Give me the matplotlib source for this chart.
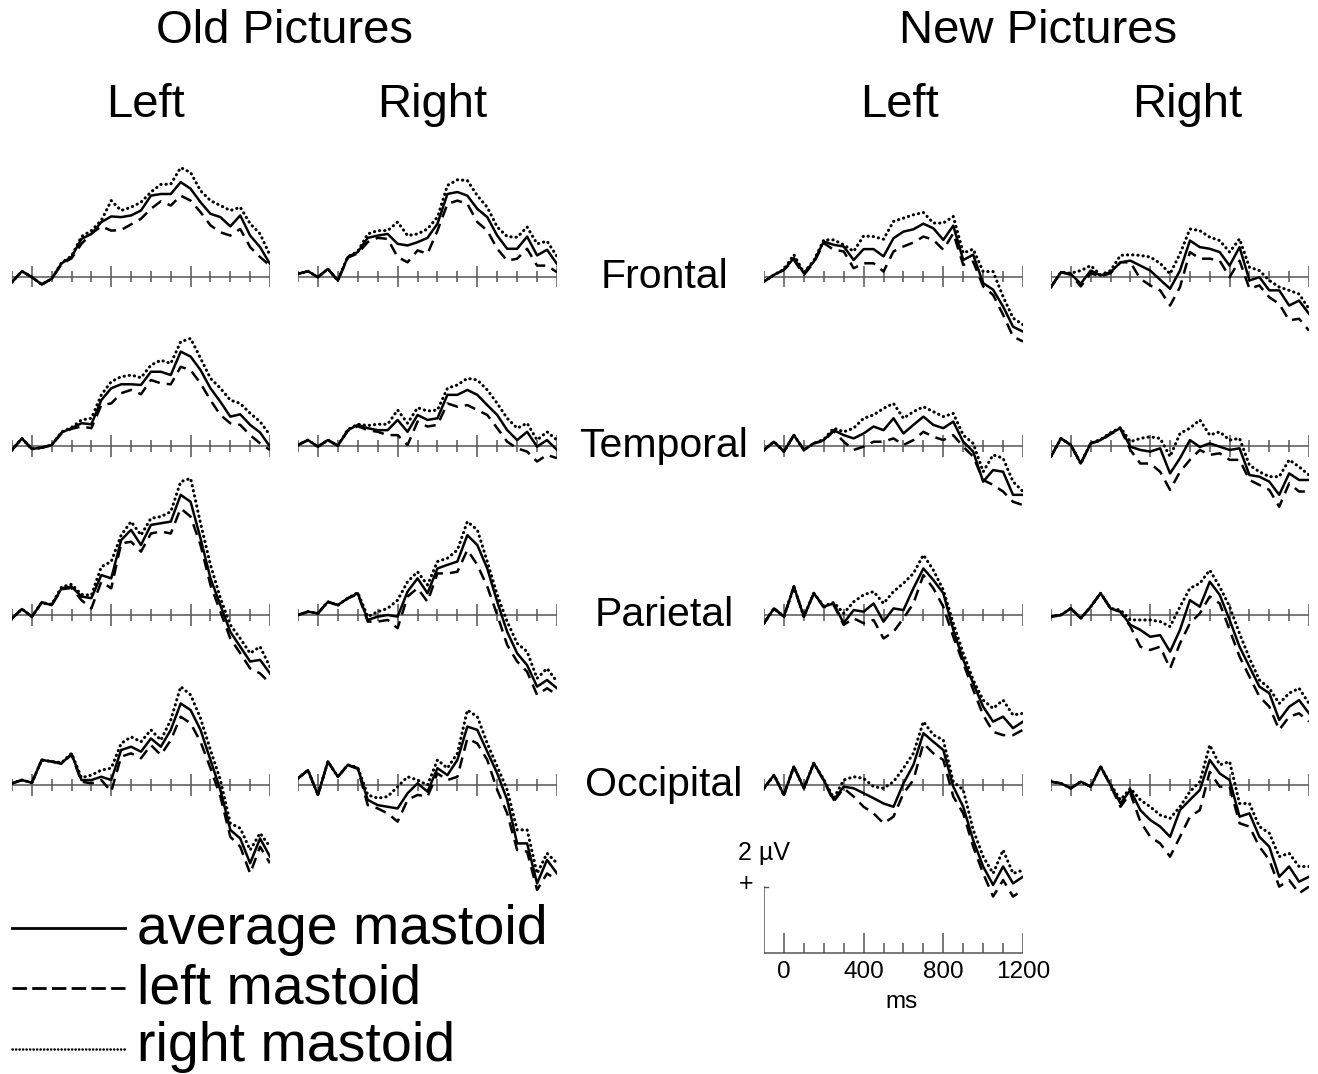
import matplotlib
matplotlib.use("Agg")
import matplotlib.pyplot as plt

plt.rcParams['font.family'] = ['Liberation Sans', 'DejaVu Sans']

# ---- time axis (ms) ----
times_ms = [-100, -50, 0, 50, 100, 150, 200, 250, 300, 350, 400, 450, 500, 550,
            600, 650, 700, 750, 800, 850, 900, 950, 1000, 1050, 1100, 1150, 1200]

# ---- Old pictures (uV), avg = average mastoid, lm = left mastoid, rm = right mastoid ----
old_left_frontal_avg = [-0.17, 0.16, -0.02, -0.24, -0.07, 0.4, 0.59, 1.14, 1.29, 1.65, 1.82, 1.8, 1.85, 2.0, 2.45, 2.5, 2.5, 2.86, 2.66, 2.25, 1.9, 1.8, 1.52, 1.85, 1.24, 0.89, 0.38]
old_left_frontal_rm = [-0.17, 0.16, -0.02, -0.24, -0.07, 0.42, 0.62, 1.21, 1.39, 1.7, 2.3, 2.0, 2.1, 2.25, 2.56, 2.79, 2.8, 3.3, 3.15, 2.6, 2.3, 2.15, 2.0, 2.1, 1.6, 1.29, 0.64]
old_left_frontal_lm = [-0.17, 0.16, -0.02, -0.24, -0.07, 0.38, 0.55, 0.99, 1.3, 1.52, 1.39, 1.41, 1.58, 1.75, 2.05, 2.28, 2.15, 2.45, 2.3, 1.95, 1.55, 1.34, 1.24, 1.44, 0.89, 0.59, 0.33]

old_right_frontal_avg = [0.08, 0.16, -0.02, 0.23, -0.12, 0.59, 0.74, 1.17, 1.24, 1.29, 0.99, 0.94, 1.04, 1.17, 1.6, 2.5, 2.56, 2.45, 2.05, 1.8, 1.24, 0.84, 0.84, 1.21, 0.64, 0.81, 0.38]
old_right_frontal_rm = [0.08, 0.16, -0.02, 0.23, -0.12, 0.6, 0.76, 1.29, 1.39, 1.39, 1.65, 1.24, 1.29, 1.44, 1.8, 2.76, 2.93, 2.91, 2.45, 2.1, 1.5, 1.21, 1.19, 1.5, 0.99, 1.07, 0.61]
old_right_frontal_lm = [0.08, 0.16, -0.02, 0.23, -0.12, 0.57, 0.7, 1.04, 1.17, 1.14, 0.59, 0.43, 0.79, 0.69, 1.39, 2.2, 2.3, 2.2, 1.65, 1.39, 0.84, 0.48, 0.54, 0.84, 0.33, 0.33, 0.13]

old_left_temporal_avg = [-0.12, 0.23, -0.09, -0.05, 0.03, 0.41, 0.54, 0.69, 0.66, 1.39, 1.75, 1.87, 1.87, 1.85, 2.25, 2.25, 2.15, 2.86, 2.71, 2.3, 1.75, 1.34, 0.89, 0.96, 0.64, 0.41, -0.02]
old_left_temporal_rm = [-0.12, 0.23, -0.09, -0.05, 0.03, 0.43, 0.56, 0.79, 0.84, 1.55, 1.95, 2.1, 2.15, 2.07, 2.45, 2.6, 2.5, 3.16, 3.26, 2.66, 2.05, 1.75, 1.39, 1.29, 0.99, 0.74, 0.33]
old_left_temporal_lm = [-0.12, 0.23, -0.09, -0.05, 0.03, 0.38, 0.52, 0.59, 0.54, 1.24, 1.29, 1.6, 1.7, 1.57, 2.0, 1.9, 1.87, 2.4, 2.3, 1.9, 1.39, 0.94, 0.69, 0.64, 0.33, 0.08, -0.12]

old_right_temporal_avg = [0.03, 0.18, -0.02, 0.18, 0.01, 0.48, 0.64, 0.54, 0.48, 0.48, 0.79, 0.43, 0.94, 0.79, 0.84, 1.55, 1.55, 1.7, 1.55, 1.24, 0.94, 0.48, 0.18, 0.43, -0.02, 0.18, -0.12]
old_right_temporal_rm = [0.03, 0.18, -0.02, 0.18, 0.01, 0.5, 0.66, 0.62, 0.66, 0.66, 1.09, 0.69, 1.16, 1.06, 1.09, 1.75, 1.85, 2.05, 2.0, 1.7, 1.29, 0.84, 0.54, 0.69, 0.18, 0.43, 0.18]
old_right_temporal_lm = [0.03, 0.18, -0.02, 0.18, 0.01, 0.46, 0.6, 0.48, 0.43, 0.33, 0.33, 0.03, 0.74, 0.59, 0.64, 1.29, 1.19, 1.24, 1.09, 0.94, 0.54, 0.13, -0.07, -0.17, -0.47, -0.27, -0.37]

old_left_parietal_avg = [-0.1, 0.18, -0.05, 0.38, 0.3, 0.81, 0.86, 0.56, 0.51, 1.21, 1.11, 2.27, 2.58, 2.12, 2.73, 2.78, 2.83, 3.64, 3.43, 2.32, 1.11, 0.3, -0.51, -0.96, -1.41, -1.36, -1.77]
old_left_parietal_rm = [-0.1, 0.18, -0.05, 0.38, 0.32, 0.85, 0.93, 0.62, 0.6, 1.46, 1.62, 2.42, 2.83, 2.42, 2.93, 2.98, 3.13, 4.04, 4.14, 2.78, 1.52, 0.51, -0.3, -0.71, -1.16, -0.96, -1.57]
old_left_parietal_lm = [-0.1, 0.18, -0.05, 0.38, 0.3, 0.78, 0.82, 0.45, 0.2, 1.01, 0.81, 2.17, 2.22, 1.92, 2.47, 2.53, 2.47, 3.23, 2.98, 2.12, 0.91, 0.1, -0.71, -1.16, -1.62, -1.77, -2.07]

old_right_parietal_avg = [0.0, 0.1, 0.05, 0.4, 0.3, 0.51, 0.66, -0.15, -0.05, 0.0, -0.05, 0.71, 1.11, 0.66, 1.41, 1.52, 1.62, 2.42, 2.12, 1.41, 0.4, -0.51, -1.16, -1.52, -2.17, -1.97, -2.22]
old_right_parietal_rm = [0.0, 0.1, 0.05, 0.4, 0.3, 0.51, 0.68, -0.05, 0.1, 0.2, 0.45, 1.01, 1.31, 0.91, 1.62, 1.72, 1.97, 2.83, 2.58, 1.62, 0.61, -0.2, -0.86, -1.11, -1.92, -1.62, -2.02]
old_right_parietal_lm = [0.0, 0.1, 0.05, 0.4, 0.3, 0.5, 0.64, -0.2, -0.2, -0.15, -0.4, 0.56, 0.81, 0.4, 1.26, 1.26, 1.31, 1.97, 1.52, 0.86, 0.0, -0.91, -1.41, -1.72, -2.42, -2.22, -2.42]

old_left_occipital_avg = [0.05, 0.15, 0.07, 0.76, 0.71, 0.66, 0.94, 0.15, 0.15, 0.25, 0.15, 1.06, 1.16, 1.01, 1.41, 1.16, 1.67, 2.47, 2.27, 1.67, 0.76, -0.15, -1.36, -1.62, -2.37, -1.62, -2.17]
old_left_occipital_rm = [0.05, 0.15, 0.07, 0.76, 0.71, 0.68, 0.96, 0.22, 0.3, 0.45, 0.51, 1.26, 1.46, 1.31, 1.67, 1.36, 1.97, 2.98, 2.73, 2.02, 1.06, 0.15, -1.16, -1.31, -1.97, -1.46, -1.87]
old_left_occipital_lm = [0.05, 0.15, 0.07, 0.76, 0.71, 0.64, 0.92, 0.1, 0.05, 0.15, -0.2, 0.86, 0.96, 0.81, 1.21, 0.91, 1.36, 2.07, 1.87, 1.31, 0.51, -0.35, -1.57, -1.87, -2.68, -1.87, -2.37]

old_right_occipital_avg = [0.2, 0.45, -0.3, 0.71, 0.25, 0.61, 0.51, -0.45, -0.61, -0.66, -0.71, -0.25, 0.05, -0.2, 0.51, 0.3, 0.76, 1.77, 1.67, 1.01, 0.35, -0.45, -1.77, -1.77, -2.98, -2.27, -2.68]
old_right_occipital_rm = [0.2, 0.45, -0.3, 0.71, 0.25, 0.61, 0.53, -0.3, -0.4, -0.35, -0.05, 0.25, 0.15, 0.0, 0.76, 0.51, 0.96, 2.27, 2.07, 1.26, 0.56, -0.15, -1.36, -1.36, -2.68, -2.07, -2.37]
old_right_occipital_lm = [0.2, 0.45, -0.3, 0.71, 0.25, 0.6, 0.49, -0.61, -0.71, -0.86, -1.11, -0.45, -0.3, -0.35, 0.35, 0.15, 0.25, 1.41, 1.26, 0.76, -0.15, -0.86, -1.97, -2.02, -3.18, -2.68, -2.88]

# ---- New pictures ----
new_left_frontal_avg = [-0.15, 0.05, 0.2, 0.56, 0.1, 0.45, 1.06, 0.96, 0.91, 0.5, 0.83, 0.83, 0.61, 1.16, 1.36, 1.43, 1.6, 1.46, 1.11, 1.54, 0.5, 0.66, -0.2, -0.4, -0.91, -1.52, -1.67]
new_left_frontal_rm = [-0.15, 0.05, 0.22, 0.66, 0.12, 0.48, 1.11, 1.11, 0.96, 0.76, 1.23, 1.21, 1.13, 1.67, 1.77, 1.87, 1.94, 1.62, 1.62, 1.82, 0.71, 0.83, 0.15, 0.15, -0.61, -1.26, -1.46]
new_left_frontal_lm = [-0.15, 0.05, 0.2, 0.5, 0.05, 0.42, 1.01, 0.81, 0.76, 0.25, 0.4, 0.4, 0.15, 0.76, 0.91, 1.03, 1.21, 1.11, 0.81, 1.31, 0.35, 0.45, -0.3, -0.56, -1.16, -1.82, -1.97]

new_right_frontal_avg = [-0.32, 0.13, 0.08, -0.22, 0.18, 0.03, 0.13, 0.43, 0.48, 0.33, 0.18, -0.1, -0.37, 0.18, 1.09, 0.89, 0.84, 0.74, 0.33, 0.89, -0.12, -0.02, -0.42, -0.42, -0.88, -0.73, -1.13]
new_right_frontal_rm = [-0.32, 0.13, 0.1, 0.18, 0.33, 0.05, 0.18, 0.64, 0.66, 0.64, 0.59, 0.4, 0.08, 0.69, 1.44, 1.39, 1.19, 1.09, 0.74, 1.14, 0.28, 0.18, -0.12, -0.32, -0.42, -0.53, -0.98]
new_right_frontal_lm = [-0.32, 0.13, 0.05, -0.3, 0.1, 0.0, 0.1, 0.43, 0.43, -0.07, -0.27, -0.42, -0.88, -0.32, 0.74, 0.54, 0.54, 0.48, -0.02, 0.48, -0.37, -0.27, -0.63, -0.83, -1.33, -1.28, -1.64]

new_left_temporal_avg = [-0.12, 0.13, -0.17, 0.33, -0.12, 0.08, 0.18, 0.48, 0.33, 0.23, 0.38, 0.59, 0.48, 0.84, 0.38, 0.64, 0.89, 0.64, 0.54, 0.74, 0.13, -0.17, -1.08, -0.73, -0.78, -1.48, -1.48]
new_left_temporal_rm = [-0.12, 0.13, -0.17, 0.33, -0.12, 0.08, 0.2, 0.54, 0.43, 0.54, 0.84, 0.94, 1.14, 1.29, 0.84, 1.04, 1.19, 1.04, 0.89, 0.99, 0.33, 0.08, -0.78, -0.27, -0.37, -1.08, -1.38]
new_left_temporal_lm = [-0.12, 0.13, -0.17, 0.33, -0.12, 0.08, 0.16, 0.45, 0.13, -0.12, -0.02, 0.13, 0.13, 0.23, 0.03, 0.18, 0.43, 0.28, 0.18, 0.33, -0.02, -0.32, -1.03, -1.18, -1.38, -1.69, -1.79]

new_right_temporal_avg = [-0.32, 0.23, 0.03, -0.53, 0.08, 0.18, 0.38, 0.54, -0.02, -0.12, -0.17, -0.07, -0.83, -0.37, 0.18, -0.03, 0.08, -0.02, -0.12, -0.07, -0.88, -0.93, -1.08, -1.48, -0.83, -1.03, -1.03]
new_right_temporal_rm = [-0.32, 0.23, 0.03, -0.53, 0.08, 0.2, 0.4, 0.56, 0.13, 0.23, 0.28, 0.23, -0.32, 0.38, 0.54, 0.79, 0.33, 0.43, 0.18, 0.23, -0.58, -0.78, -0.93, -0.93, -0.42, -0.63, -0.88]
new_right_temporal_lm = [-0.32, 0.23, 0.03, -0.53, 0.08, 0.16, 0.36, 0.52, -0.12, -0.53, -0.53, -0.78, -1.33, -0.78, -0.42, -0.12, -0.27, -0.22, -0.42, -0.42, -1.03, -1.18, -1.33, -1.84, -1.13, -1.38, -1.38]

new_left_parietal_avg = [-0.25, 0.2, -0.05, 0.86, -0.05, 0.66, 0.25, 0.35, -0.25, 0.15, 0.1, 0.35, -0.2, 0.2, 0.15, 0.81, 1.41, 1.06, 0.66, -0.45, -1.36, -2.07, -2.78, -3.23, -3.08, -3.43, -3.23]
new_left_parietal_rm = [-0.25, 0.2, -0.05, 0.86, -0.05, 0.66, 0.27, 0.38, 0.05, 0.4, 0.61, 0.71, 0.35, 0.71, 0.96, 1.26, 1.82, 1.36, 0.76, -0.25, -1.16, -1.97, -2.58, -2.83, -2.58, -3.03, -2.98]
new_left_parietal_lm = [-0.25, 0.2, -0.05, 0.86, -0.05, 0.66, 0.23, 0.3, -0.3, -0.1, -0.25, -0.15, -0.71, -0.51, -0.1, 0.35, 1.21, 0.81, 0.25, -0.66, -1.46, -2.27, -3.03, -3.54, -3.64, -3.64, -3.48]

new_right_parietal_avg = [-0.05, 0.0, 0.2, -0.1, 0.25, 0.66, 0.2, 0.1, -0.3, -0.45, -0.66, -0.61, -1.11, -0.45, 0.45, 0.25, 1.01, 0.61, -0.15, -0.96, -1.57, -2.17, -2.37, -3.18, -2.78, -2.58, -2.98]
new_right_parietal_rm = [-0.05, 0.0, 0.2, -0.1, 0.25, 0.66, 0.2, 0.15, -0.15, -0.15, -0.15, -0.2, -0.35, 0.25, 0.81, 0.96, 1.36, 0.86, 0.25, -0.56, -1.31, -1.97, -2.22, -2.68, -2.37, -2.22, -2.68]
new_right_parietal_lm = [-0.05, 0.0, 0.2, -0.1, 0.25, 0.66, 0.2, 0.1, -0.35, -0.96, -1.06, -0.96, -1.62, -0.86, -0.25, 0.05, 0.56, 0.35, -0.45, -1.26, -1.87, -2.47, -2.78, -3.48, -3.08, -2.98, -3.23]

new_left_occipital_avg = [-0.1, 0.3, -0.3, 0.56, -0.1, 0.66, 0.15, -0.45, -0.05, -0.1, -0.25, -0.4, -0.56, -0.66, 0.05, 0.61, 1.57, 1.31, 1.06, -0.05, -0.66, -1.67, -2.47, -3.03, -2.47, -2.98, -2.78]
new_left_occipital_rm = [-0.1, 0.3, -0.3, 0.56, -0.1, 0.66, 0.17, -0.4, 0.15, 0.25, 0.2, -0.05, -0.1, 0.1, 0.51, 0.96, 1.92, 1.52, 1.36, 0.1, -0.15, -1.36, -2.17, -2.68, -1.97, -2.68, -2.58]
new_left_occipital_lm = [-0.1, 0.3, -0.3, 0.56, -0.1, 0.66, 0.13, -0.5, -0.1, -0.35, -0.66, -0.86, -1.16, -0.96, -0.25, 0.15, 1.26, 0.96, 0.76, -0.35, -0.86, -1.87, -2.68, -3.38, -2.88, -3.38, -3.18]

new_right_occipital_avg = [0.1, 0.05, -0.1, 0.1, -0.05, 0.56, 0.0, -0.56, -0.15, -0.76, -1.06, -1.26, -1.57, -0.76, -0.45, -0.15, 0.76, 0.35, 0.15, -0.96, -0.86, -1.57, -1.87, -2.78, -2.47, -2.93, -2.78]
new_right_occipital_rm = [0.1, 0.05, -0.1, 0.1, -0.05, 0.56, 0.02, -0.45, -0.1, -0.45, -0.66, -0.91, -1.01, -0.66, -0.2, 0.1, 1.21, 0.61, 0.71, -0.56, -0.56, -1.26, -1.46, -2.17, -2.07, -2.47, -2.47]
new_right_occipital_lm = [0.1, 0.05, -0.1, 0.1, -0.05, 0.56, -0.02, -0.66, -0.25, -1.11, -1.57, -1.77, -2.17, -1.57, -0.96, -0.76, 0.4, -0.05, -0.05, -1.16, -1.26, -1.87, -2.27, -3.08, -2.88, -3.28, -3.08]

regions = ['Frontal', 'Temporal', 'Parietal', 'Occipital']
major_ticks = [0, 400, 800, 1200]
minor_ticks = [-100, 100, 200, 300, 500, 600, 700, 900, 1000, 1100]
scale_labels = ['0', '400', '800', '1200']

panels = [
    [(old_left_frontal_avg, old_left_frontal_lm, old_left_frontal_rm),
     (old_right_frontal_avg, old_right_frontal_lm, old_right_frontal_rm),
     (new_left_frontal_avg, new_left_frontal_lm, new_left_frontal_rm),
     (new_right_frontal_avg, new_right_frontal_lm, new_right_frontal_rm)],
    [(old_left_temporal_avg, old_left_temporal_lm, old_left_temporal_rm),
     (old_right_temporal_avg, old_right_temporal_lm, old_right_temporal_rm),
     (new_left_temporal_avg, new_left_temporal_lm, new_left_temporal_rm),
     (new_right_temporal_avg, new_right_temporal_lm, new_right_temporal_rm)],
    [(old_left_parietal_avg, old_left_parietal_lm, old_left_parietal_rm),
     (old_right_parietal_avg, old_right_parietal_lm, old_right_parietal_rm),
     (new_left_parietal_avg, new_left_parietal_lm, new_left_parietal_rm),
     (new_right_parietal_avg, new_right_parietal_lm, new_right_parietal_rm)],
    [(old_left_occipital_avg, old_left_occipital_lm, old_left_occipital_rm),
     (old_right_occipital_avg, old_right_occipital_lm, old_right_occipital_rm),
     (new_left_occipital_avg, new_left_occipital_lm, new_left_occipital_rm),
     (new_right_occipital_avg, new_right_occipital_lm, new_right_occipital_rm)],
]

# ---- layout in pixels ----
W, H = 1318, 1074
PX_PER_UV = 33.0
YR = 4.5
col_x = [(12, 270), (298, 557), (764, 1023), (1051, 1309)]
row_zero = [276.5, 446, 615, 785]
AXIS_COL = '#555555'

fig = plt.figure(figsize=(W / 100, H / 100), dpi=100)


def panel_axes(x0, x1, zero_y):
    half = YR * PX_PER_UV
    ax = fig.add_axes([x0 / W, 1 - (zero_y + half) / H, (x1 - x0) / W, 2 * half / H])
    ax.set_xlim(-100, 1200)
    ax.set_ylim(-YR, YR)
    ax.axis('off')
    ax.patch.set_alpha(0)
    return ax


for r, row in enumerate(panels):
    for c, (avg, lm, rm) in enumerate(row):
        ax = panel_axes(col_x[c][0], col_x[c][1], row_zero[r])
        ax.plot([-100, 1200], [0, 0], color=AXIS_COL, lw=1.1, zorder=1)
        ax.vlines(major_ticks, -0.33, 0.33, color=AXIS_COL, lw=1.1, zorder=1)
        ax.vlines(minor_ticks, -0.17, 0.17, color=AXIS_COL, lw=1.1, zorder=1)
        ax.plot(times_ms, lm, color='black', lw=1.8, ls=(0, (4.5, 2.8)), zorder=3)
        ax.plot(times_ms, rm, color='black', lw=2.2, ls=(0, (0.1, 1.6)),
                dash_capstyle='round', zorder=3)
        ax.plot(times_ms, avg, color='black', lw=1.8, zorder=4)

# ---- scale bar ----
sb = panel_axes(764, 1023, 953)
sb.plot([-100, 1200], [0, 0], color=AXIS_COL, lw=1.1)
sb.plot([-100, -100], [0, 2], color=AXIS_COL, lw=1.1)
sb.plot([-100, -80], [2, 2], color=AXIS_COL, lw=1.0)
sb.vlines(major_ticks, 0, 0.6, color=AXIS_COL, lw=1.1)
sb.vlines(minor_ticks[1:], 0, 0.3, color=AXIS_COL, lw=1.1)
for t, lab in zip(major_ticks, scale_labels):
    sb.text(t, -0.25, lab, ha='center', va='top', fontsize=17.5)
sb.text(590, -1.15, 'ms', ha='center', va='top', fontsize=17.5)

# ---- text overlay ----
ov = fig.add_axes([0, 0, 1, 1])
ov.set_xlim(0, W)
ov.set_ylim(H, 0)
ov.axis('off')
ov.patch.set_alpha(0)

ov.text(738, 853, '2 \u00b5V', ha='left', va='center', fontsize=18)
ov.text(746, 884, '+', ha='center', va='center', fontsize=18)

ov.text(285, 31, 'Old Pictures', ha='center', va='center', fontsize=34)
ov.text(1038, 31, 'New Pictures', ha='center', va='center', fontsize=34)
for x, lab in [(145, 'Left'), (432, 'Right'), (899, 'Left'), (1187, 'Right')]:
    ov.text(x, 105, lab, ha='center', va='center', fontsize=34)
for zy, lab in zip(row_zero, regions):
    ov.text(664, zy, lab, ha='center', va='center', fontsize=29.5)

# legend
ov.plot([12, 125], [928, 928], color='black', lw=2.0)
ov.plot([12, 125], [988, 988], color='black', lw=2.0, ls=(0, (5.2, 1.9)))
ov.plot([12, 125], [1049, 1049], color='black', lw=1.8, ls=(0, (0.1, 1.3)),
        dash_capstyle='round')
ov.text(137, 944, 'average mastoid', ha='left', va='baseline', fontsize=40)
ov.text(137, 1004, 'left mastoid', ha='left', va='baseline', fontsize=40)
ov.text(137, 1061, 'right mastoid', ha='left', va='baseline', fontsize=40)

fig.savefig('out.png', dpi=100)
